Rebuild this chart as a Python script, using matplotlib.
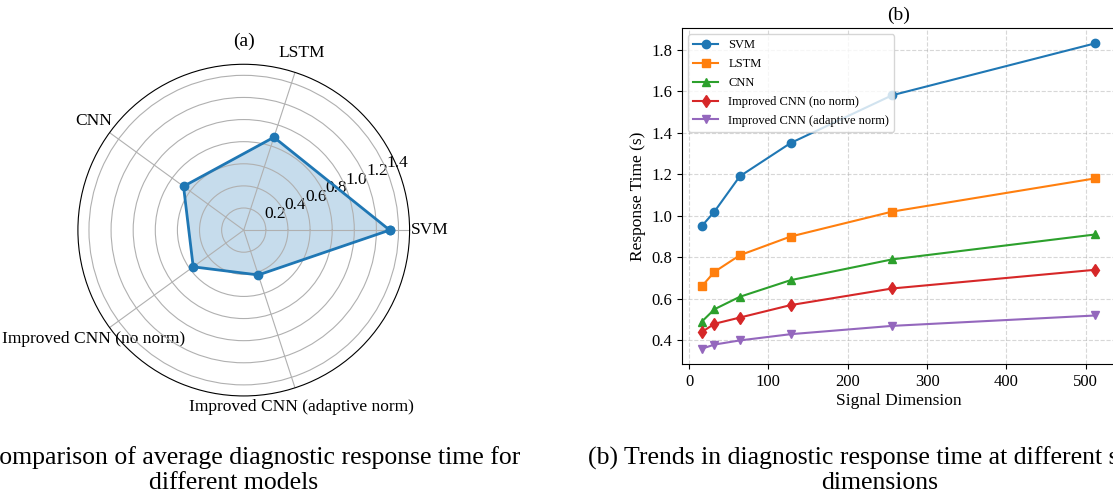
import matplotlib
matplotlib.use('Agg')
import matplotlib.pyplot as plt
import numpy as np

plt.rcParams['font.family'] = ['Liberation Serif', 'DejaVu Serif']

# Data
models = ['SVM', 'LSTM', 'CNN', 'Improved CNN (no norm)', 'Improved CNN (adaptive norm)']
dims = [16, 32, 64, 128, 256, 512]
svm = [0.95, 1.02, 1.19, 1.35, 1.58, 1.83]
lstm = [0.66, 0.73, 0.81, 0.90, 1.02, 1.18]
cnn = [0.49, 0.55, 0.61, 0.69, 0.79, 0.91]
icnn_no_norm = [0.44, 0.48, 0.51, 0.57, 0.65, 0.74]
icnn_adaptive = [0.36, 0.38, 0.40, 0.43, 0.47, 0.52]
series = [svm, lstm, cnn, icnn_no_norm, icnn_adaptive]
avg_time = [np.mean(s) for s in series]
radial_ticks = [0.2, 0.4, 0.6, 0.8, 1.0, 1.2, 1.4]

fig = plt.figure(figsize=(11.13, 4.97), dpi=100)

# (a) radar chart
ax1 = fig.add_axes([0.070, 0.203, 0.298, 0.668], projection='polar')
angles = np.linspace(0, 2 * np.pi, len(models), endpoint=False)
ang_closed = np.concatenate([angles, angles[:1]])
val_closed = np.concatenate([avg_time, avg_time[:1]])
ax1.plot(ang_closed, val_closed, 'o-', color='#1f77b4', linewidth=2, markersize=6)
ax1.fill(ang_closed, val_closed, color='#1f77b4', alpha=0.25)
ax1.set_xticks(angles)
ax1.set_xticklabels(models, fontsize=12.5)
ax1.set_ylim(0, 1.5)
ax1.set_yticks(radial_ticks)
ax1.set_yticklabels([f'{t:.1f}' for t in radial_ticks], fontsize=12.5)
ax1.set_rlabel_position(22.5)
ax1.grid(True, color='#b0b0b0', linewidth=0.8)
ax1.tick_params(axis='x', pad=4)
ax1.set_title('(a)', fontsize=14, y=1.055, pad=0)

# (b) response time vs dimension
ax2 = fig.add_axes([0.6128, 0.2676, 0.389, 0.676])
markers = ['o', 's', '^', 'd', 'v']
for s, m, name in zip(series, markers, models):
    ax2.plot(dims, s, marker=m, linewidth=1.5, markersize=6, label=name)
ax2.set_xlabel('Signal Dimension', fontsize=12.5, labelpad=2)
ax2.set_ylabel('Response Time (s)', fontsize=12.5)
ax2.set_title('(b)', fontsize=14, pad=6)
ax2.tick_params(labelsize=12)
ax2.grid(True, linestyle='--', alpha=0.5)
ax2.legend(loc='upper left', fontsize=9, labelspacing=0.55)

# captions
fig.text(0.21, 0.054, '(a) Comparison of average diagnostic response time for\ndifferent models',
         ha='center', va='center', fontsize=18.5, linespacing=1.15)
fig.text(0.79, 0.054, '(b) Trends in diagnostic response time at different signal\ndimensions',
         ha='center', va='center', fontsize=18.5, linespacing=1.15)

fig.savefig('out.png', dpi=100)
